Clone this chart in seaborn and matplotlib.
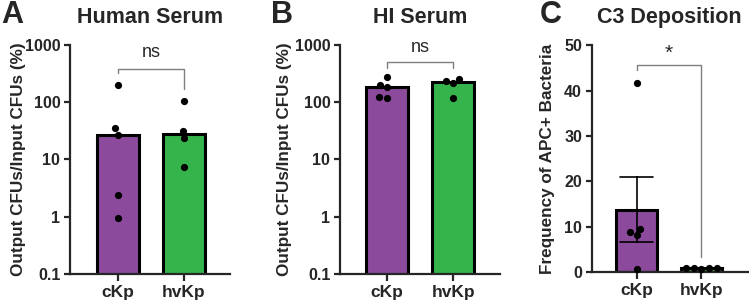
import numpy as np
import pandas as pd
import matplotlib.pyplot as plt
import seaborn as sns
from matplotlib.ticker import NullLocator

# values
groups = ["cKp", "hvKp"]
human_ckp = [200, 35, 27, 2.4, 0.95]
human_hvkp = [104, 32, 24, 7.5]
hi_ckp = [275, 200, 183, 123, 120]
hi_hvkp = [251, 214, 233, 117]
c3_ckp = [41.6, 9.5, 8.1, 8.8, 0.6]
c3_hvkp = [0.7, 0.9, 0.8, 0.8, 0.9]

log_ticks = [0.1, 1, 10, 100, 1000]
log_labels = ["0.1", "1", "10", "100", "1000"]
c3_ticks = [0, 10, 20, 30, 40, 50]

colors = {"cKp": "#8b4a9c", "hvKp": "#34b44a"}

sns.set_style("ticks")
plt.rcParams['font.family'] = ['Liberation Sans', 'DejaVu Sans']
plt.rcParams['font.weight'] = 'bold'
plt.rcParams['axes.labelweight'] = 'bold'


def make_df(a, b):
    return pd.DataFrame({"group": [groups[0]] * len(a) + [groups[1]] * len(b),
                         "value": a + b})


def draw_panel(ax, df, log, estimator, errorbar):
    if log:
        ax.set_yscale('log')
    sns.barplot(data=df, x="group", y="value", hue="group", palette=colors,
                estimator=estimator, errorbar=errorbar, width=0.64, saturation=1,
                edgecolor="black", linewidth=2.2, capsize=0.5,
                err_kws={"color": "black", "linewidth": 1.2},
                legend=False, ax=ax)
    sns.swarmplot(data=df, x="group", y="value", color="black", size=5.2, ax=ax)
    ax.set_xlabel("")
    sns.despine(ax=ax)
    for s in ["left", "bottom"]:
        ax.spines[s].set_linewidth(1.6)
    ax.tick_params(axis="y", length=4, width=1.6, pad=3, labelsize=11.5)
    ax.tick_params(axis="x", length=5, width=1.6, pad=3, labelsize=12.5)


def bracket(ax, y_top, y_left, y_right, text, text_y, size=13, weight="normal"):
    tr = ax.get_xaxis_transform()
    ax.plot([0, 0, 1, 1], [y_left, y_top, y_top, y_right], color="#7f7f7f",
            lw=1.0, transform=tr, clip_on=False)
    ax.text(0.5, text_y, text, transform=tr, ha="center", va="center",
            fontsize=size, fontweight=weight)


fig = plt.figure(figsize=(7.49, 3.05), dpi=100)

# Panel A
axA = fig.add_axes([0.0935, 0.1016, 0.2136, 0.751])
draw_panel(axA, make_df(human_ckp, human_hvkp), True, np.median, None)
axA.set_ylim(0.1, 1000)
axA.set_yticks(log_ticks)
axA.set_yticklabels(log_labels)
axA.yaxis.set_minor_locator(NullLocator())
axA.set_xlim(-0.727, 1.70)
axA.set_ylabel("Output CFUs/Input CFUs (%)", fontsize=12.3)
axA.yaxis.set_label_coords(-0.275, 0.5)
bracket(axA, 0.895, 0.878, 0.808, "ns", 0.965)

# Panel B
axB = fig.add_axes([0.454, 0.1016, 0.2136, 0.751])
draw_panel(axB, make_df(hi_ckp, hi_hvkp), True, np.median, None)
axB.set_ylim(0.1, 1000)
axB.set_yticks(log_ticks)
axB.set_yticklabels(log_labels)
axB.yaxis.set_minor_locator(NullLocator())
axB.set_xlim(-0.71, 1.71)
axB.set_ylabel("Output CFUs/Input CFUs (%)", fontsize=12.3)
axB.yaxis.set_label_coords(-0.30, 0.5)
bracket(axB, 0.926, 0.90, 0.90, "ns", 0.99)

# Panel C
axC = fig.add_axes([0.790, 0.108, 0.208, 0.744])
draw_panel(axC, make_df(c3_ckp, c3_hvkp), False, "mean", "se")
axC.set_ylim(0, 50)
axC.set_yticks(c3_ticks)
axC.set_xlim(-0.69, 1.71)
axC.set_ylabel("Frequency of APC+ Bacteria", fontsize=12.3)
axC.yaxis.set_label_coords(-0.237, 0.5)
bracket(axC, 0.912, 0.89, 0.066, "*", 0.965, size=15)

# titles and panel letters
for x, title in [(0.2003, "Human Serum"), (0.5608, "HI Serum"), (0.894, "C3 Deposition")]:
    fig.text(x, 0.9246, title, ha="center", va="baseline", fontsize=15.5, fontweight="bold")
for x, letter in [(0.002, "A"), (0.362, "B"), (0.720, "C")]:
    fig.text(x, 0.9246, letter, ha="left", va="baseline", fontsize=22, fontweight="bold")

fig.savefig("out.png", dpi=100)
